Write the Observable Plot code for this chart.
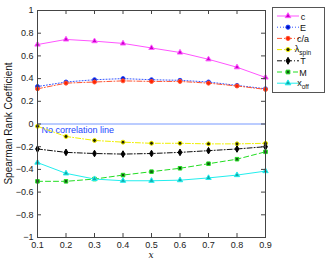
<!DOCTYPE html>
<html><head><meta charset="utf-8">
<script src="https://cdn.jsdelivr.net/npm/d3@7"></script>
<script src="https://cdn.jsdelivr.net/npm/@observablehq/plot@0.6"></script>
<style>
body{margin:0;background:#fff;font-family:"Liberation Sans",Arial,sans-serif;}
#chart{position:relative;width:328px;height:259px;}
</style></head>
<body><div id="chart"></div>
<script>
const xs = [0.1,0.2,0.3,0.4,0.5,0.6,0.7,0.8,0.9];
const c      = [0.70,0.745,0.73,0.71,0.67,0.63,0.57,0.50,0.41];
const E      = [0.33,0.37,0.39,0.40,0.39,0.385,0.37,0.34,0.31];
const ca     = [0.31,0.36,0.37,0.38,0.375,0.375,0.36,0.335,0.305];
const lspin  = [-0.02,-0.11,-0.145,-0.16,-0.17,-0.17,-0.175,-0.175,-0.17];
const T      = [-0.22,-0.25,-0.26,-0.265,-0.26,-0.25,-0.235,-0.22,-0.20];
const M      = [-0.505,-0.505,-0.485,-0.45,-0.42,-0.39,-0.35,-0.31,-0.245];
const xoff   = [-0.34,-0.435,-0.485,-0.50,-0.50,-0.495,-0.475,-0.45,-0.415];
const xTicks = [0.1,0.2,0.3,0.4,0.5,0.6,0.7,0.8,0.9];
const yTicks = [-1,-0.8,-0.6,-0.4,-0.2,0,0.2,0.4,0.6,0.8,1];

const series = [
  {name:"c", html:"c", vals:c, stroke:"#ff55ff", dash:null, symbol:"triangle", fill:"#cc00cc", mstroke:"#ff55ff"},
  {name:"E", html:"E", vals:E, stroke:"#3355ff", dash:"1,2", symbol:"circle", fill:"#0010c0", mstroke:"#2244ff"},
  {name:"c/a", html:"c/a", vals:ca, stroke:"#ff5533", dash:"5,2,1,2", symbol:"circle", fill:"#ff2200", mstroke:"#ff5533"},
  {name:"λspin", html:"λ", sub:"spin", vals:lspin, stroke:"#f0f000", dash:"5,2,1,2", symbol:"circle", fill:"#222200", mstroke:"#f0f000"},
  {name:"T", html:"T", vals:T, stroke:"#111111", dash:"5,2,1,2", symbol:"diamond", fill:"#000", mstroke:"#000"},
  {name:"M", html:"M", vals:M, stroke:"#22dd22", dash:"5,3", symbol:"square", fill:"#115511", mstroke:"#22dd22"},
  {name:"xoff", html:"x", sub:"off", vals:xoff, stroke:"#22eeee", dash:null, symbol:"triangle", fill:"#11aaaa", mstroke:"#22eeee"}
];

const rows = series.map(s => xs.map((x,i)=>({x, y:s.vals[i]})));

const W=328, H=259, mL=37, mR=63, mT=10, mB=22;
const ph = H-mT-mB, pw = W-mL-mR;
const tk = 4;

const marks = [
  Plot.ruleY([0], {stroke:"#7799ff", strokeWidth:1}),
  Plot.text([{x:0.1,y:0}], {x:"x", y:"y", text:()=>"No correlation line", textAnchor:"start", dx:4, dy:6, fill:"#2244ff", fontSize:9}),
];
series.forEach((s,k)=>{
  marks.push(Plot.line(rows[k], {x:"x", y:"y", stroke:s.stroke, strokeWidth:1, strokeDasharray:s.dash}));
  marks.push(Plot.dot(rows[k], {x:"x", y:"y", symbol:()=>s.symbol, r:2, fill:s.fill, stroke:s.mstroke, strokeWidth:1}));
});
marks.push(
  Plot.tickX(xTicks, {x:d=>d, insetTop:ph-tk, stroke:"#444"}),
  Plot.tickX(xTicks, {x:d=>d, insetBottom:ph-tk, stroke:"#444"}),
  Plot.tickY(yTicks, {y:d=>d, insetLeft:0, insetRight:pw-tk, stroke:"#444"}),
  Plot.tickY(yTicks, {y:d=>d, insetLeft:pw-tk, stroke:"#444"}),
  Plot.axisX(xTicks, {tickSize:0, tickPadding:4, tickFormat:d=>d3.format(".1f")(d), fontSize:9, fill:"#222", label:null}),
  Plot.axisY(yTicks, {tickSize:0, tickPadding:4, tickFormat:d=>d===0?"0":(d===1||d===-1?d3.format("")(d).replace("-","\u2212"):d3.format(".1f")(d).replace("-","\u2212")), fontSize:9, fill:"#222", label:null}),
  Plot.frame({stroke:"#444", strokeWidth:1})
);

const plot = Plot.plot({
  width:W, height:H, marginLeft:mL, marginRight:mR, marginTop:mT, marginBottom:mB,
  x:{domain:[0.1,0.9]},
  y:{domain:[-1,1]},
  style:{fontFamily:"'Liberation Sans',Arial,sans-serif", fontSize:"9px", background:"#fff"},
  marks
});
document.getElementById("chart").appendChild(plot);

// axis titles and legend
const svg = d3.select(plot);
svg.append("text").attr("transform",`translate(12,${mT+ph/2}) rotate(-90)`).attr("text-anchor","middle")
  .attr("font-size",10).attr("fill","#111").text("Spearman Rank Coefficient");
svg.append("text").attr("x",mL+pw/2).attr("y",H-1).attr("text-anchor","middle")
  .attr("font-family","'DejaVu Serif',serif").attr("font-style","italic").attr("font-size",9).attr("fill","#111").text("x");

const lg = svg.append("g");
lg.append("rect").attr("x",272.5).attr("y",7.5).attr("width",52).attr("height",85).attr("fill","#fff").attr("stroke","#555");
const sym = {triangle:d3.symbolTriangle, circle:d3.symbolCircle, diamond:d3.symbolDiamond, square:d3.symbolSquare};
series.forEach((s,k)=>{
  const yy = 16 + k*11.2;
  lg.append("line").attr("x1",277).attr("x2",299).attr("y1",yy).attr("y2",yy).attr("stroke",s.stroke).attr("stroke-width",1)
    .attr("stroke-dasharray",s.dash);
  lg.append("path").attr("d",d3.symbol(sym[s.symbol],14)()).attr("transform",`translate(288,${yy})`)
    .attr("fill",s.fill).attr("stroke",s.mstroke);
  const t = lg.append("text").attr("x",303).attr("y",yy+(s.sub?2.5:3.5)).attr("font-size",9).attr("fill","#111");
  t.append("tspan").text(s.html);
  if (s.sub) t.append("tspan").attr("dy",3).attr("font-size",6.5).text(s.sub);
});
</script></body></html>
